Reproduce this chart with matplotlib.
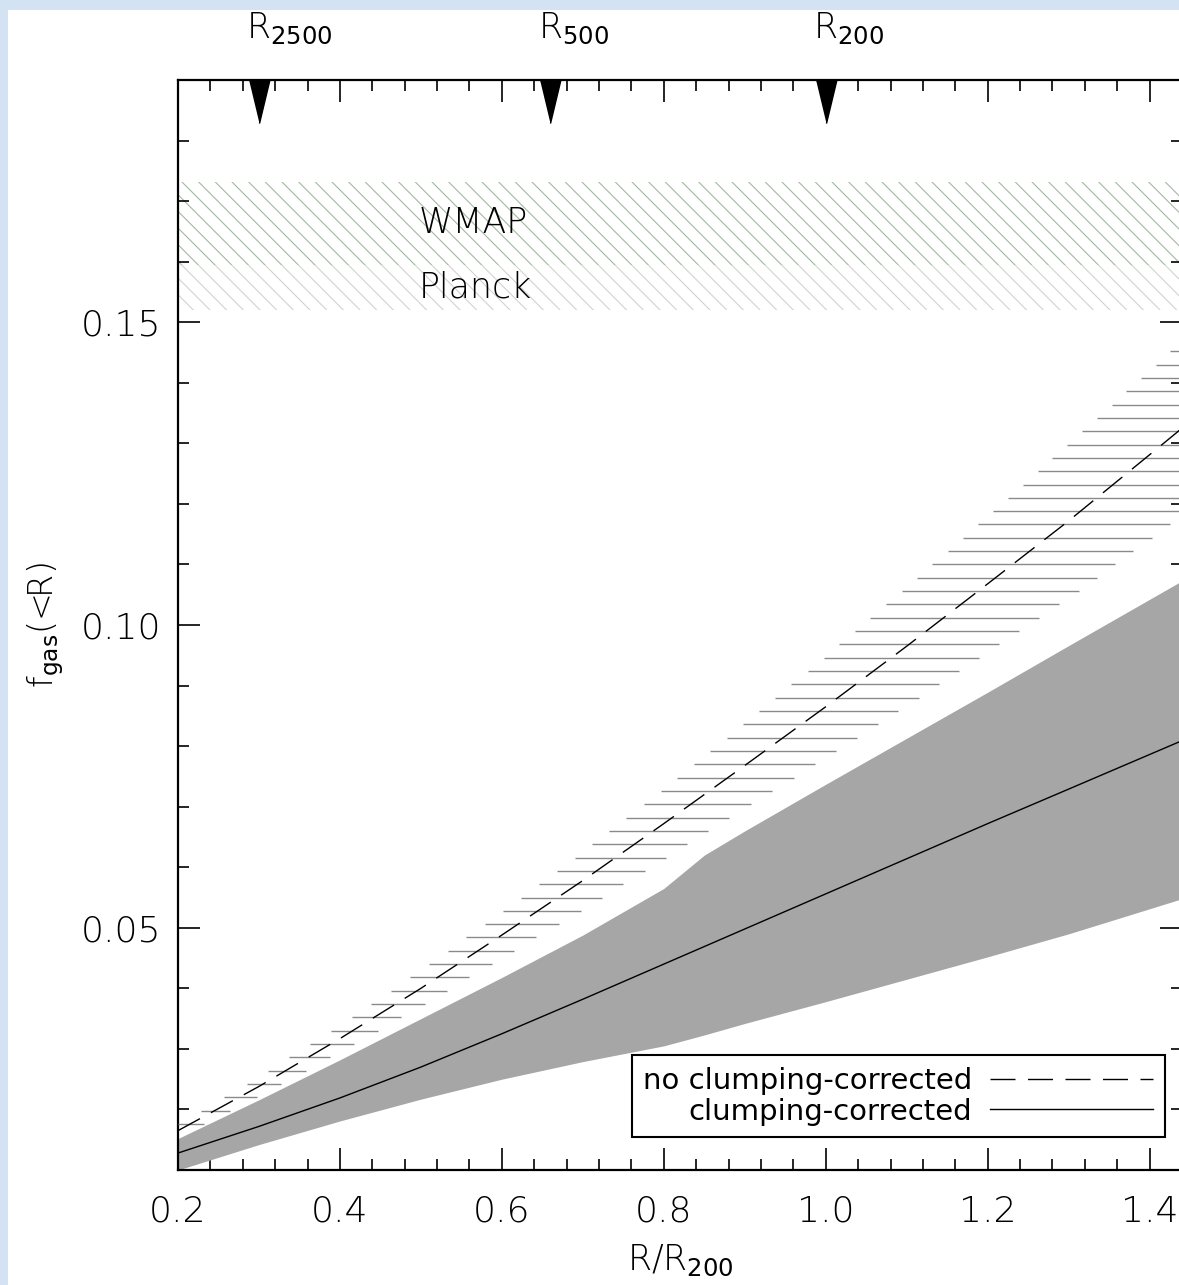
import numpy as np
import matplotlib
matplotlib.use("Agg")
import matplotlib.pyplot as plt
import matplotlib.transforms as mtransforms
from matplotlib.patches import Rectangle
from matplotlib.lines import Line2D
from matplotlib.ticker import MultipleLocator, FormatStrFormatter


# clumping-corrected gas fraction and its scatter band
r_clump = [0.20, 0.30, 0.40, 0.50, 0.60, 0.70, 0.80, 0.85, 0.90, 1.00, 1.10, 1.20, 1.30, 1.44]
fgas_clump = [0.0128, 0.0172, 0.0219, 0.0270, 0.0325, 0.0382, 0.0440, 0.0469, 0.0498,
              0.0556, 0.0614, 0.0672, 0.0729, 0.0809]
fgas_clump_lo = [0.0100, 0.0142, 0.0181, 0.0217, 0.0250, 0.0279, 0.0305, 0.0323, 0.0342,
                 0.0378, 0.0415, 0.0452, 0.0490, 0.0548]
fgas_clump_hi = [0.0152, 0.0216, 0.0282, 0.0350, 0.0418, 0.0488, 0.0565, 0.0620, 0.0660,
                 0.0737, 0.0813, 0.0889, 0.0966, 0.1073]

# gas fraction without the clumping correction
r_noclump = [0.20, 0.30, 0.40, 0.50, 0.60, 0.70, 0.80, 0.90, 1.00, 1.10, 1.20, 1.30, 1.42, 1.44]
fgas_noclump = [0.0165, 0.0238, 0.0317, 0.0400, 0.0488, 0.0578, 0.0672, 0.0768, 0.0865,
                0.0965, 0.1068, 0.1172, 0.1303, 0.1325]
fgas_noclump_lo = [0.0154, 0.0222, 0.0295, 0.0370, 0.0450, 0.0530, 0.0614, 0.0698, 0.0781,
                   0.0867, 0.0956, 0.1044, 0.1161, 0.1180]
fgas_noclump_hi = [0.0176, 0.0254, 0.0339, 0.0430, 0.0526, 0.0626, 0.0730, 0.0838, 0.0949,
                   0.1063, 0.1180, 0.1300, 0.1445, 0.1470]

# cosmic baryon fraction
band_names = ["WMAP", "Planck"]
band_lo = [0.1595, 0.1520]
band_hi = [0.1732, 0.1595]

# characteristic radii on the top axis
r_marks = [0.30, 0.66, 1.00]
r_mark_labels = ["R$_{2500}$", "R$_{500}$", "R$_{200}$"]

legend_labels = ["no clumping-corrected", "clumping-corrected"]

HATCH_STEP = 0.0022
TXT = dict(family="DejaVu Sans", fontweight="light")

plt.rcParams["font.family"] = "DejaVu Sans"
plt.rcParams["hatch.linewidth"] = 0.8

W, H = 1179, 1285
fig = plt.figure(figsize=(W / 100, H / 100), dpi=100, facecolor="#d3e3f4")
# white page area, the blue strip only shows at the top and left edge
fig.patches.append(Rectangle((8 / W, 0), 1, 1 - 10 / H, transform=fig.transFigure,
                             facecolor="white", edgecolor="none", zorder=-5))

# right spine sits just past the image edge
ax = fig.add_axes([178 / W, 115 / H, 1004 / W, 1090 / H])
ax.set_xlim(0.2, 1.44)
ax.set_ylim(0.01, 0.19)

# baryon fraction bands
band_colors = ["#a3b8a3", "#d2d2d2"]
for lo, hi, name, col in zip(band_lo, band_hi, band_names, band_colors):
    ax.axhspan(lo, hi, facecolor="none", edgecolor=col, hatch="\\\\", linewidth=0, zorder=1)
    ax.text(0.497, (lo + hi) / 2, name, fontsize=25, va="center", ha="left", zorder=3, **TXT)

# clumping-corrected band and line
ax.fill_between(r_clump, fgas_clump_lo, fgas_clump_hi, color="#a6a6a6", linewidth=0, zorder=2)
ax.plot(r_clump, fgas_clump, color="black", lw=1.0, zorder=4)

# horizontal line fill for the uncorrected band
levels = np.arange(fgas_noclump_lo[0], fgas_noclump_hi[-1], HATCH_STEP)
x_left = np.interp(levels, fgas_noclump_hi, r_noclump)
x_right = np.interp(levels, fgas_noclump_lo, r_noclump)
ax.hlines(levels, x_left, x_right, color="#8a8a8a", lw=1.0, zorder=3)
dash_line, = ax.plot(r_noclump, fgas_noclump, color="black", lw=1.0, zorder=4)
dash_line.set_dashes((18, 9))

# markers for R2500, R500, R200
trans = mtransforms.blended_transform_factory(ax.transData, ax.transAxes)
tri = [(-0.24, 0), (0.24, 0), (0, -1)]
ax.plot(r_marks, [1.0] * len(r_marks), transform=trans, linestyle="none",
        marker=tri, markersize=62, color="black", clip_on=False, zorder=5)
for xm, lab in zip(r_marks, r_mark_labels):
    ax.annotate(lab, xy=(xm, 1.0), xycoords=trans, xytext=(-9, 30),
                textcoords="offset points", ha="left", va="baseline", fontsize=25,
                annotation_clip=False, **TXT)

# axes styling
ax.xaxis.set_major_locator(MultipleLocator(0.2))
ax.xaxis.set_minor_locator(MultipleLocator(0.04))
ax.yaxis.set_major_locator(MultipleLocator(0.05))
ax.yaxis.set_minor_locator(MultipleLocator(0.01))
ax.xaxis.set_major_formatter(FormatStrFormatter("%.1f"))
ax.yaxis.set_major_formatter(FormatStrFormatter("%.2f"))
ax.tick_params(which="both", direction="in", top=True, right=True, width=1.2, colors="black")
ax.tick_params(which="major", length=16)
ax.tick_params(which="minor", length=8)
ax.tick_params(axis="x", which="major", pad=18, labelsize=26)
ax.tick_params(axis="y", which="major", pad=12, labelsize=26)
for lab in ax.get_xticklabels() + ax.get_yticklabels():
    lab.set_fontweight("light")
for sp in ax.spines.values():
    sp.set_linewidth(1.6)

ax.set_xlabel("R/R$_{200}$", fontsize=25, labelpad=10, **TXT)
ax.set_ylabel("f$_{\\mathrm{gas}}$(<R)", fontsize=24, labelpad=11, **TXT)

handles = [Line2D([], [], color="black", lw=1.0, dashes=(18, 9)),
           Line2D([], [], color="black", lw=1.0)]
leg = ax.legend(handles, legend_labels, loc="lower right", bbox_to_anchor=(0.983, 0.030),
                markerfirst=False, fontsize=21, handlelength=5.6, handletextpad=0.6,
                borderpad=0.4, labelspacing=0.1, borderaxespad=0, fancybox=False,
                framealpha=1, edgecolor="black")
leg.get_frame().set_linewidth(1.5)
leg.set_zorder(6)

fig.savefig("out.png", dpi=100, facecolor=fig.get_facecolor())
